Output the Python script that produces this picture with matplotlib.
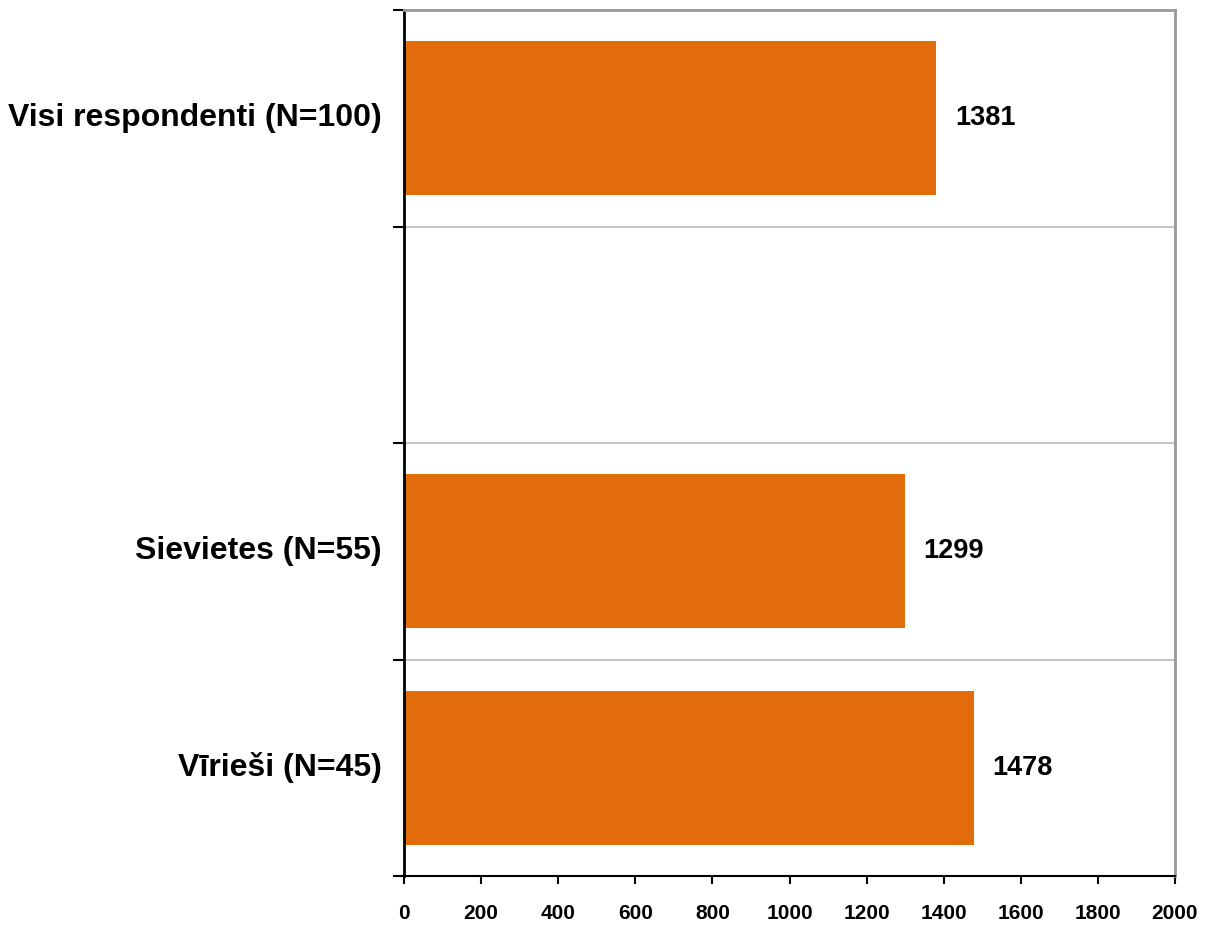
import matplotlib
matplotlib.use("Agg")
import matplotlib.pyplot as plt
from matplotlib.transforms import ScaledTranslation

categories = ["Visi respondenti (N=100)", "", "Sievietes (N=55)", "Vīrieši (N=45)"]
values = [1381, None, 1299, 1478]
xticks = [0, 200, 400, 600, 800, 1000, 1200, 1400, 1600, 1800, 2000]

plt.rcParams['font.family'] = ['Liberation Sans', 'DejaVu Sans']
plt.rcParams['font.weight'] = 'bold'

fig = plt.figure(figsize=(12.1, 9.27), dpi=100)
ax = fig.add_axes([404/1210, 1 - 876/927, (1175 - 404)/1210, (876 - 10)/927])

bar_color = "#E36C0A"
for i, v in enumerate(values):
    if v is None:
        continue
    ax.barh(i, v, height=0.71, color=bar_color, zorder=2)
    ax.text(v + 48, i, f"{v}", va='center', ha='left', fontsize=19.5, fontweight='bold', color='black')

ax.set_xlim(0, 2000)
ax.set_ylim(len(categories) - 0.5, -0.5)

bounds = [i + 0.5 for i in range(len(categories) - 1)]
ax.set_yticks([-0.5] + bounds + [len(categories) - 0.5])
ax.set_yticklabels([])
ax.tick_params(axis='y', which='major', length=8, width=1.5, direction='out', color='black')
ax.set_yticks(range(len(categories)), minor=True)
ax.set_yticklabels(categories, minor=True, fontsize=23, fontweight='bold')
ax.tick_params(axis='y', which='minor', length=0, pad=16)
for lbl in ax.get_yticklabels(minor=True):
    lbl.set_transform(lbl.get_transform() + ScaledTranslation(0, 4/100, fig.dpi_scale_trans))

for b in bounds:
    ax.axhline(b, color='#c0c0c0', linewidth=1.3, zorder=1)

ax.set_xticks(xticks)
ax.set_xticklabels([str(t) for t in xticks], fontsize=15, fontweight='bold')
ax.tick_params(axis='x', length=6, width=1.5, direction='out', pad=14, color='black')

ax.spines['left'].set_color('black')
ax.spines['left'].set_linewidth(2)
ax.spines['bottom'].set_color('black')
ax.spines['bottom'].set_linewidth(1.5)
ax.spines['top'].set_color('#999999')
ax.spines['top'].set_linewidth(2)
ax.spines['right'].set_color('#999999')
ax.spines['right'].set_linewidth(2)

fig.savefig("out.png", dpi=100)
